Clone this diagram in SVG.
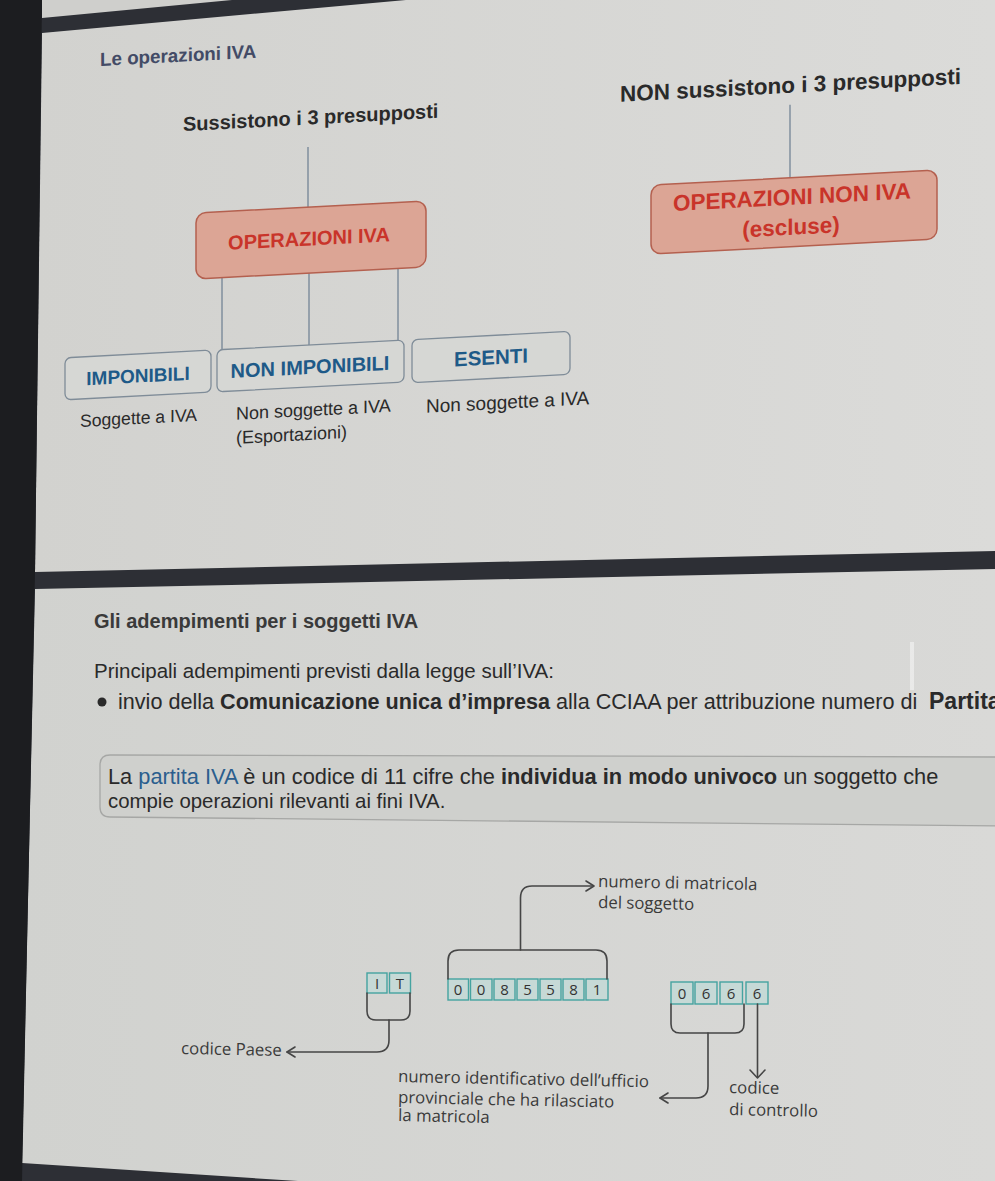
<svg xmlns="http://www.w3.org/2000/svg" width="995" height="1181" viewBox="0 0 995 1181">
<style>
.h{font-family:"Liberation Sans",Arial,sans-serif;font-weight:bold;fill:#2a2a2a}
.t{font-family:"Liberation Sans",Arial,sans-serif;fill:#2a2a2a}
.red{font-family:"Liberation Sans",Arial,sans-serif;font-weight:bold;fill:#c9342a;text-anchor:middle}
.blue{font-family:"Liberation Sans",Arial,sans-serif;font-weight:bold;fill:#1e5a88;text-anchor:middle}
.ln{stroke:#6b7d90;stroke-width:1.2;fill:none}
.rbox{fill:#dca595;stroke:#b4604f;stroke-width:1.5}
.gbox{fill:#d6d7d4;stroke:#7f8c98;stroke-width:1.3}
.d{font-family:"Open Sans","DejaVu Sans",sans-serif;font-size:16.8px;fill:#3a3a3a}
.cell{fill:#c6d9d6;stroke:#45a3a0;stroke-width:1.4}
.dg{font-family:"Open Sans","DejaVu Sans",sans-serif;font-size:15px;fill:#333;text-anchor:middle}
.br{stroke:#454545;stroke-width:1.6;fill:none;stroke-linecap:round;stroke-linejoin:round}
</style>
<defs>
<linearGradient id="bg1" x1="0" y1="0" x2="1" y2="0">
<stop offset="0" stop-color="#d2d2cf"/><stop offset="1" stop-color="#dbdbd9"/>
</linearGradient>
<linearGradient id="bg2" x1="0" y1="0" x2="1" y2="0">
<stop offset="0" stop-color="#d1d2cf"/><stop offset="1" stop-color="#d9d9d7"/>
</linearGradient>
<clipPath id="clip2"><rect x="0" y="560" width="995" height="621"/></clipPath>
</defs>

<!-- photo background -->
<rect x="0" y="0" width="995" height="1181" fill="#2d2f35"/>
<polygon points="42,0 232,0 42,18" fill="#cfcfcc"/>
<polygon points="42,33 406,0 995,0 995,551 35,572" fill="url(#bg1)"/>
<polygon points="35,589 995,569 995,1181 298,1181 22,1163" fill="url(#bg2)"/>
<polygon points="0,0 42,0 35,572 22,1181 0,1181" fill="#1c1d20"/>
<rect x="910" y="642" width="4" height="48" fill="#ffffff" opacity="0.45"/>

<!-- Slide 1 -->
<g id="slide1" transform="translate(500,0) skewY(-3) translate(-500,0)">
  <text x="100" y="45" class="h" style="fill:#434b66;font-size:18.8px">Le operazioni IVA</text>
  <g id="n-sussistono"><text x="183" y="114.5" class="h" font-size="20">Sussistono i 3 presupposti</text></g>
  <g id="n-non-sussistono"><text x="620" y="108" class="h" font-size="22.5">NON sussistono i 3 presupposti</text></g>
  <g id="connectors1">
    <line class="ln" x1="308" y1="137" x2="308" y2="197"/>
    <line class="ln" x1="790" y1="120" x2="790" y2="193"/>
    <line class="ln" x1="222" y1="263" x2="222" y2="335"/>
    <line class="ln" x1="309" y1="263" x2="309" y2="335"/>
    <line class="ln" x1="398" y1="263" x2="398" y2="335"/>
  </g>
  <g id="n-operazioni-iva">
    <rect class="rbox" x="196" y="197" width="230" height="66" rx="10"/>
    <text x="309" y="235.5" class="red" font-size="20">OPERAZIONI IVA</text>
  </g>
  <g id="n-operazioni-non-iva">
    <rect class="rbox" x="651" y="193" width="286" height="69" rx="10"/>
    <text x="792" y="220" class="red" font-size="22.5">OPERAZIONI NON IVA</text>
    <text x="791" y="250" class="red" font-size="22.5">(escluse)</text>
  </g>
  <g id="n-imponibili">
    <rect class="gbox" x="65" y="335" width="146" height="42" rx="6"/>
    <text x="138" y="363.5" class="blue" font-size="19">IMPONIBILI</text>
  </g>
  <g id="n-non-imponibili">
    <rect class="gbox" x="217" y="335" width="187" height="42" rx="6"/>
    <text x="310" y="364" class="blue" font-size="20">NON IMPONIBILI</text>
  </g>
  <g id="n-esenti">
    <rect class="gbox" x="412" y="335" width="158" height="43" rx="6"/>
    <text x="491" y="364" class="blue" font-size="20.5">ESENTI</text>
  </g>
  <text x="80" y="405" class="t" font-size="17.6">Soggette a IVA</text>
  <text x="236" y="406" class="t" font-size="18">Non soggette a IVA</text>
  <text x="236" y="430" class="t" font-size="18">(Esportazioni)</text>
  <text x="426" y="409" class="t" font-size="19">Non soggette a IVA</text>
</g>

<!-- Slide 2 -->
<g id="slide2" clip-path="url(#clip2)">
  <text x="94" y="628" class="h" style="fill:#3a3a3a;font-size:20px">Gli adempimenti per i soggetti IVA</text>
  <text x="94" y="678" class="t" font-size="20.5">Principali adempimenti previsti dalla legge sull’IVA:</text>
  <circle cx="102" cy="702" r="4.5" fill="#2a2a2a"/>
  <text x="118" y="709" class="t" font-size="21.6">invio della <tspan font-weight="bold">Comunicazione unica d’impresa</tspan> alla CCIAA per attribuzione numero di</text>
  <text x="929" y="709" class="h" font-size="23">Partita</text>
  <g id="n-partita-iva-box">
    <path d="M100,765 Q100,755 110,755 L1000,757 L1000,826 L110,817 Q100,817 100,807 Z" fill="#cfd0cd" stroke="#a6a7a5" stroke-width="1.3"/>
    <text x="108" y="784" class="t" font-size="21.8">La <tspan fill="#2b5e8e">partita IVA</tspan> è un codice di 11 cifre che <tspan font-weight="bold">individua in modo univoco</tspan> un soggetto che</text>
    <text x="108" y="808" class="t" font-size="20.4">compie operazioni rilevanti ai fini IVA.</text>
  </g>

  <!-- Partita IVA structure -->
  <g id="n-it">
    <rect class="cell" x="367" y="973" width="20" height="20"/>
    <rect class="cell" x="389.5" y="973" width="21" height="20"/>
    <text x="377" y="988.5" class="dg">I</text>
    <text x="400" y="988.5" class="dg">T</text>
  </g>
  <g id="n-matricola">
    <rect class="cell" x="448" y="979" width="20.5" height="21"/>
    <rect class="cell" x="470.5" y="979" width="21.5" height="21"/>
    <rect class="cell" x="494" y="979" width="21" height="21"/>
    <rect class="cell" x="517" y="979" width="21" height="21"/>
    <rect class="cell" x="540" y="979" width="21" height="21"/>
    <rect class="cell" x="563" y="979" width="21" height="21"/>
    <rect class="cell" x="586" y="979" width="22" height="21"/>
    <text x="458" y="995" class="dg">0</text>
    <text x="481" y="995" class="dg">0</text>
    <text x="504.5" y="995" class="dg">8</text>
    <text x="527.5" y="995" class="dg">5</text>
    <text x="550.5" y="995" class="dg">5</text>
    <text x="573.5" y="995" class="dg">8</text>
    <text x="597" y="995" class="dg">1</text>
  </g>
  <g id="n-ufficio">
    <rect class="cell" x="671" y="982" width="22" height="22"/>
    <rect class="cell" x="695" y="982" width="22" height="22"/>
    <rect class="cell" x="720" y="982" width="22.5" height="22"/>
    <text x="682" y="998.5" class="dg">0</text>
    <text x="706" y="998.5" class="dg">6</text>
    <text x="731" y="998.5" class="dg">6</text>
  </g>
  <g id="n-controllo">
    <rect class="cell" x="746" y="982" width="22" height="22"/>
    <text x="757" y="998.5" class="dg">6</text>
  </g>

  <g id="connectors2">
    <path class="br" d="M448,979 V961 Q448,950 459,950 H596 Q607,950 607,961 V979"/>
    <path class="br" d="M520.5,950 V898 Q520.5,886 532,886 H593"/>
    <polyline class="br" points="586,881 594,886 586,891"/>
    <path class="br" d="M367,993 V1011 Q367,1020 376,1020 H401 Q410,1020 410,1011 V993"/>
    <path class="br" d="M389,1020 V1040 Q389,1052 377,1052 H287"/>
    <polyline class="br" points="295,1047 287,1052 295,1057"/>
    <path class="br" d="M671,1004 V1024 Q671,1033 680,1033 H735 Q744,1033 744,1024 V1004"/>
    <path class="br" d="M708,1033 V1086 Q708,1098 696,1098 H660"/>
    <polyline class="br" points="668,1093 660,1098 668,1103"/>
    <path class="br" d="M757.5,1004 V1077"/>
    <polyline class="br" points="750,1070 757.5,1078 765,1070"/>
  </g>

  <g id="n-label-matricola">
    <text class="d" x="598" y="887" transform="rotate(1.1 598 887)">numero di matricola</text>
    <text class="d" x="598" y="908" transform="rotate(1.1 598 908)">del soggetto</text>
  </g>
  <g id="n-label-paese">
    <text class="d" x="181" y="1054" font-size="16" transform="rotate(1.1 181 1054)">codice Paese</text>
  </g>
  <g id="n-label-ufficio">
    <text class="d" x="398" y="1082" transform="rotate(1.2 398 1082)">numero identificativo dell’ufficio</text>
    <text class="d" x="398" y="1103" transform="rotate(1.2 398 1103)">provinciale che ha rilasciato</text>
    <text class="d" x="398" y="1121" transform="rotate(1.2 398 1121)">la matricola</text>
  </g>
  <g id="n-label-controllo">
    <text class="d" x="729" y="1093" transform="rotate(1.2 729 1093)">codice</text>
    <text class="d" x="729" y="1115" transform="rotate(1.2 729 1115)">di controllo</text>
  </g>
</g>
</svg>
